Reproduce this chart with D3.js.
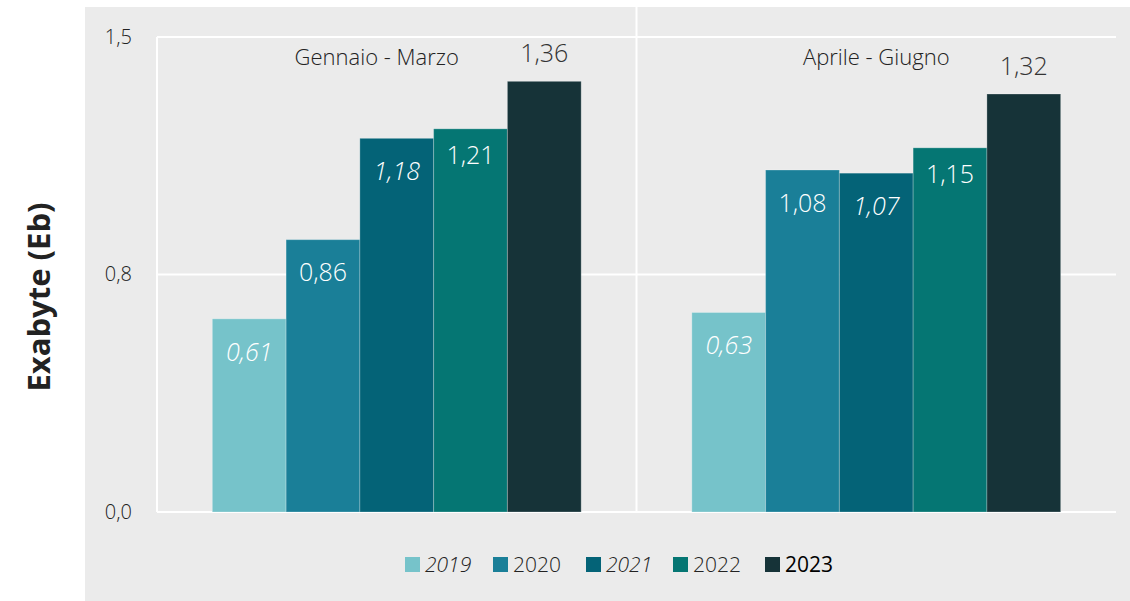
<!DOCTYPE html>
<html><head><meta charset="utf-8">
<script src="https://cdn.jsdelivr.net/npm/d3@7"></script>
<style>body{margin:0;background:#fff}svg{display:block}text{font-family:"Open Sans","Noto Sans",sans-serif}</style>
</head><body><svg id="c" width="1130" height="601"></svg>
<script>
const categories = ["Gennaio - Marzo", "Aprile - Giugno"];
const years = ["2019", "2020", "2021", "2022", "2023"];
const v2019 = [0.61, 0.63];
const v2020 = [0.86, 1.08];
const v2021 = [1.18, 1.07];
const v2022 = [1.21, 1.15];
const v2023 = [1.36, 1.32];
const yTicks = [0, 0.75, 1.5];
const tickLabels = ["0,0", "0,8", "1,5"];
const yLabel = "Exabyte (Eb)";

const seriesVals = [v2019, v2020, v2021, v2022, v2023];
const colors = ["#76C3CA", "#1A7F98", "#046377", "#057673", "#163338"];
const italic = [true, false, true, false, false];
const labelOff = [33, 33, 33, 26, -28];

const svg = d3.select("#c");
svg.append("rect").attr("x", 85).attr("y", 7).attr("width", 1045).attr("height", 594).attr("fill", "#EBEBEB");

const L = 157, R = 1116, T = 37, B = 512;
const x0 = d3.scaleBand().domain(categories).range([L, R]).paddingInner(0).paddingOuter(0);
const x1 = d3.scaleBand().domain(years).range([0, x0.bandwidth()]).paddingOuter(0.75).paddingInner(0);
const y = d3.scaleLinear().domain([0, 1.5]).range([B, T]);

// grid
const g = svg.append("g");
g.selectAll("line.h").data(yTicks).join("line")
  .attr("x1", L).attr("x2", R).attr("y1", d => y(d)).attr("y2", d => y(d))
  .attr("stroke", "#fff").attr("stroke-width", 2);
g.append("line").attr("x1", L).attr("x2", L).attr("y1", T).attr("y2", B).attr("stroke", "#fff").attr("stroke-width", 2);
g.append("line").attr("x1", x0(categories[1])).attr("x2", x0(categories[1])).attr("y1", 7).attr("y2", B).attr("stroke", "#fff").attr("stroke-width", 2);

// y axis labels
const yAxis = d3.axisLeft(y).tickValues(yTicks).tickFormat((d, i) => tickLabels[i]).tickSize(0).tickPadding(0);
const ya = svg.append("g").attr("transform", `translate(132,0)`).call(yAxis);
ya.select(".domain").remove();
ya.selectAll("text").attr("font-size", 20).attr("font-weight", 300).attr("fill", "#222").attr("dy", "0.3em");

// y label
svg.append("text").attr("transform", "translate(50,297) rotate(-90)").attr("text-anchor", "middle")
  .attr("font-size", 31).attr("font-weight", "bold").attr("fill", "#222").text(yLabel);

// bars
years.forEach((yr, si) => {
  const gs = svg.append("g");
  gs.selectAll("rect").data(categories).join("rect")
    .attr("x", c => x0(c) + x1(yr)).attr("width", x1.bandwidth())
    .attr("y", (c, i) => y(seriesVals[si][i])).attr("height", (c, i) => B - y(seriesVals[si][i]))
    .attr("fill", colors[si]).attr("stroke", "rgba(255,255,255,0.25)").attr("stroke-width", 1);
  gs.selectAll("text").data(categories).join("text")
    .attr("x", c => x0(c) + x1(yr) + x1.bandwidth() / 2)
    .attr("y", (c, i) => y(seriesVals[si][i]) + labelOff[si])
    .attr("dy", "0.35em").attr("text-anchor", "middle")
    .attr("font-size", 25).attr("font-weight", 300)
    .attr("font-style", italic[si] ? "italic" : "normal")
    .attr("fill", si === 4 ? "#333" : "#fff")
    .text((c, i) => d3.format(".2f")(seriesVals[si][i]).replace(".", ","));
});

// category labels
svg.selectAll("text.cat").data(categories).join("text").attr("class", "cat")
  .attr("x", (c, i) => x0(c) + x0.bandwidth() / 2 - (i === 0 ? 20 : 0)).attr("y", 57).attr("dy", "0.35em")
  .attr("text-anchor", "middle").attr("font-size", 22).attr("font-weight", 300).attr("fill", "#222").text(c => c);

// legend
const legX = [405, 493, 586, 673, 765];
const lg = svg.append("g");
years.forEach((yr, i) => {
  lg.append("rect").attr("x", legX[i]).attr("y", 557).attr("width", 15).attr("height", 15).attr("fill", colors[i]);
  lg.append("text").attr("x", legX[i] + 20).attr("y", 565).attr("dy", "0.35em").attr("font-size", 21)
    .attr("font-style", italic[i] ? "italic" : "normal").attr("font-weight", i === 4 ? 400 : 300)
    .attr("fill", i === 4 ? "#000" : "#222").text(yr);
});
</script></body></html>
